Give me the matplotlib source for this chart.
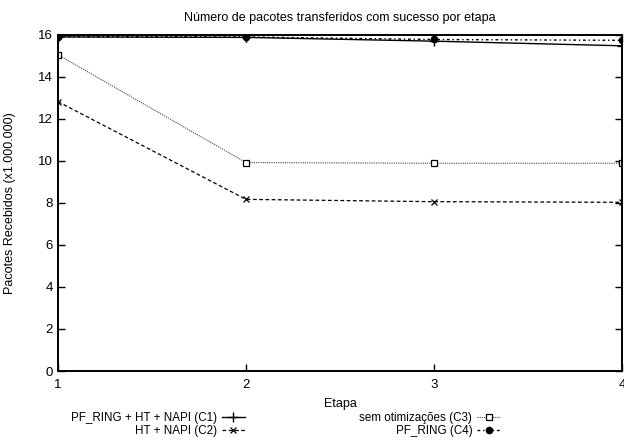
import matplotlib
matplotlib.use("Agg")
import matplotlib.pyplot as plt

plt.rcParams["font.family"] = ["Liberation Sans", "DejaVu Sans"]

etapas = [1, 2, 3, 4]
c1 = [15.90, 15.88, 15.70, 15.48]
c2 = [12.82, 8.17, 8.06, 8.03]
c3 = [15.05, 9.92, 9.89, 9.89]
c4 = [15.92, 15.90, 15.78, 15.74]

labels = ["PF_RING + HT + NAPI (C1)", "HT + NAPI (C2)",
          "sem otimizações (C3)", "PF_RING (C4)"]

fig = plt.figure(figsize=(6.24, 4.47), dpi=100)
ax = fig.add_axes([0.093, 0.170, 0.904, 0.752])

l1, = ax.plot(etapas, c1, color="black", lw=1.0, ls="-", marker="+", ms=7, mew=1.0)
l2, = ax.plot(etapas, c2, color="black", lw=0.9, ls=(0, (3, 2)), marker="x", ms=4.5, mew=0.9)
l3, = ax.plot(etapas, c3, color="#444444", lw=0.8, ls=(0, (1, 1)), marker="s", ms=4.5,
              mfc="white", mec="black", mew=0.9)
l4, = ax.plot(etapas, c4, color="black", lw=1.0, ls=(0, (2, 2, 1, 2)), marker="o", ms=4.5,
              mfc="black", mec="black")

ax.set_xlim(1, 4)
ax.set_ylim(0, 16)
ax.set_xticks(etapas)
ax.set_yticks(range(0, 17, 2))
ax.tick_params(direction="in", top=True, right=True, length=5, labelsize=9.5, width=1.0)
ax.tick_params(axis="x", pad=6)
for s in ax.spines.values():
    s.set_linewidth(1.4)

ax.set_title("Número de pacotes transferidos com sucesso por etapa", fontsize=9, pad=10)
ax.set_xlabel("Etapa", fontsize=9, labelpad=5)
ax.set_ylabel("Pacotes Recebidos (x1.000.000)", fontsize=9, labelpad=16)

leg_kw = dict(frameon=False, markerfirst=False, fontsize=8.4, handlelength=2.0,
              labelspacing=0.1, handletextpad=0.4, borderpad=0.0)
fig.legend([l1, l2], labels[:2], loc="upper right",
           bbox_to_anchor=(251 / 624, 1 - 406 / 447), **leg_kw)
fig.legend([l3, l4], labels[2:], loc="upper right",
           bbox_to_anchor=(506 / 624, 1 - 406 / 447), **leg_kw)

fig.savefig("out.png", dpi=100)
